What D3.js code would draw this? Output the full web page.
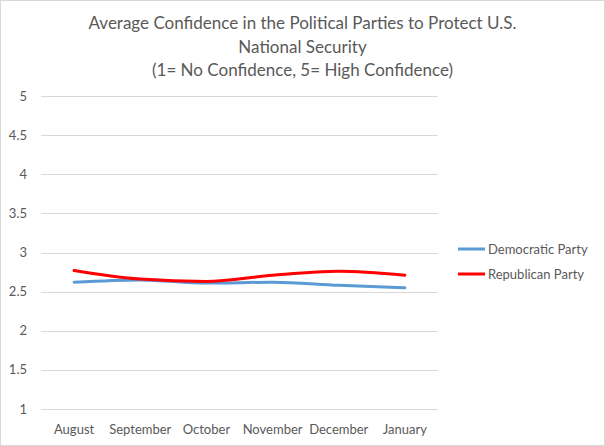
<!DOCTYPE html>
<html>
<head>
<meta charset="utf-8">
<script src="https://cdn.jsdelivr.net/npm/d3@7"></script>
<style>
  body { margin: 0; background: #fff; }
  svg { font-family: Lato, "Open Sans", sans-serif; }
</style>
</head>
<body>
<svg id="chart" width="605" height="446"></svg>
<script>
// chart data
const months = ["August", "September", "October", "November", "December", "January"]
const democratic = [2.62, 2.65, 2.61, 2.62, 2.58, 2.55]
const republican = [2.77, 2.66, 2.63, 2.71, 2.76, 2.71]
const yTicks = [1, 1.5, 2, 2.5, 3, 3.5, 4, 4.5, 5]
const titleLines = [
  "Average Confidence in the Political Parties to Protect U.S.",
  "National Security",
  "(1= No Confidence, 5= High Confidence)"
]
const seriesNames = ["Democratic Party", "Republican Party"]
const seriesColors = ["#5B9BD5", "#FF0000"]

const svg = d3.select("#chart")
const W = 605, H = 446
const plot = { left: 41, right: 438, top: 96, bottom: 409 }
const textColor = "#595959"

// outer border
svg.append("rect")
  .attr("x", 0.5).attr("y", 0.5)
  .attr("width", W - 1).attr("height", H - 1)
  .attr("fill", "#fff").attr("stroke", "#D9D9D9")

// title
svg.append("text")
  .attr("text-anchor", "middle")
  .attr("fill", textColor)
  .attr("font-size", 17)
  .selectAll("tspan")
  .data(titleLines)
  .join("tspan")
  .attr("x", W / 2)
  .attr("y", (d, i) => 29 + i * 23.5)
  .text(d => d)

const x = d3.scaleBand().domain(months).range([plot.left, plot.right])
const y = d3.scaleLinear().domain([1, 5]).range([plot.bottom, plot.top])

// gridlines
svg.append("g")
  .selectAll("line")
  .data(yTicks)
  .join("line")
  .attr("x1", plot.left).attr("x2", plot.right)
  .attr("y1", d => Math.round(y(d)) + 0.5)
  .attr("y2", d => Math.round(y(d)) + 0.5)
  .attr("stroke", "#D9D9D9")

// y labels
svg.append("g")
  .selectAll("text")
  .data(yTicks)
  .join("text")
  .attr("x", 27)
  .attr("y", d => y(d) + 4.5)
  .attr("text-anchor", "end")
  .attr("font-size", 13)
  .attr("fill", textColor)
  .text(d => d)

// x labels
svg.append("g")
  .selectAll("text")
  .data(months)
  .join("text")
  .attr("x", d => x(d) + x.bandwidth() / 2)
  .attr("y", 434)
  .attr("text-anchor", "middle")
  .attr("font-size", 13)
  .attr("fill", textColor)
  .text(d => d)

// lines
const line = d3.line()
  .x((d, i) => x(months[i]) + x.bandwidth() / 2)
  .y(d => y(d))
  .curve(d3.curveMonotoneX)

;[democratic, republican].forEach((vals, i) => {
  svg.append("path")
    .datum(vals)
    .attr("d", line)
    .attr("fill", "none")
    .attr("stroke", seriesColors[i])
    .attr("stroke-width", 3)
    .attr("stroke-linecap", "round")
})

// legend
const legend = svg.append("g")
seriesNames.forEach((name, i) => {
  const ly = 249 + i * 25
  legend.append("line")
    .attr("x1", 458).attr("x2", 485)
    .attr("y1", ly).attr("y2", ly)
    .attr("stroke", seriesColors[i])
    .attr("stroke-width", 3)
  legend.append("text")
    .attr("x", 488).attr("y", ly + 4.5)
    .attr("font-size", 13)
    .attr("fill", textColor)
    .text(name)
})
</script>
</body>
</html>
